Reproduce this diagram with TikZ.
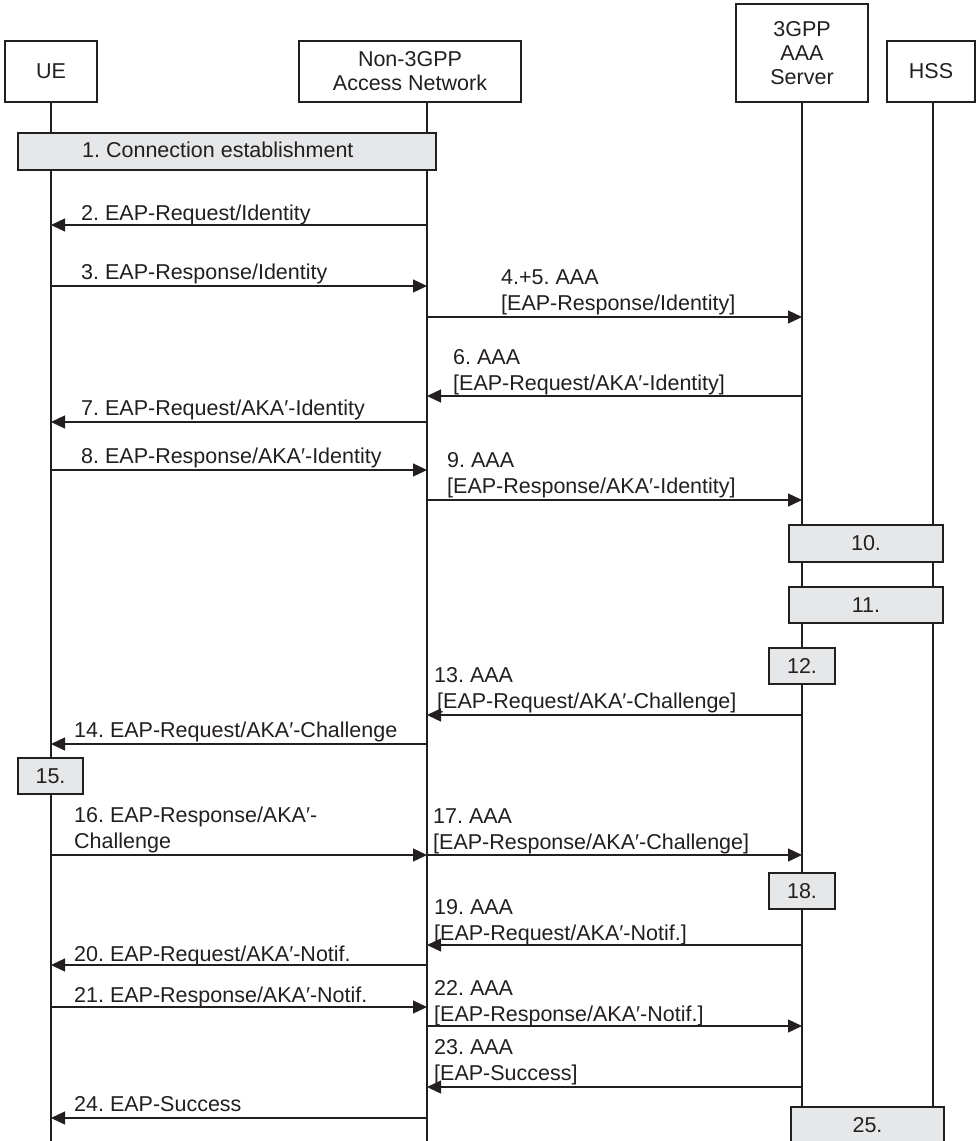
\documentclass[tikz,border=0pt]{standalone}
\usepackage{fontspec}
\setmainfont{Liberation Sans}
\usetikzlibrary{arrows.meta}
\definecolor{Ink}{HTML}{231F20}
\definecolor{StepGray}{HTML}{E6E7E8}
\tikzset{
  entity/.style={draw=Ink,line width=1.4pt,align=center,inner sep=0pt,
    font=\fontsize{21.5}{24}\selectfont,text=Ink},
  stepbox/.style={draw=Ink,fill=StepGray,line width=1.4pt,inner sep=0pt,
    font=\fontsize{21.5}{26}\selectfont,text=Ink},
  life/.style={draw=Ink,line width=1.3pt},
  msg/.style={draw=Ink,line width=1.3pt,-{Triangle[length=14pt,width=13pt]}},
  lab/.style={anchor=base west,align=left,inner sep=0pt,
    font=\fontsize{21.5}{26}\selectfont,text=Ink}
}
\frenchspacing
\begin{document}
\begin{tikzpicture}[x=1pt,y=-1pt]
  \useasboundingbox (0,0) rectangle (976,1141);
  \clip (0,0) rectangle (976,1141);
  \fill[white] (0,0) rectangle (976,1141);

  % entities
  \node[entity,minimum width=92pt,minimum height=61pt] (ue) at (51,71.5) {UE};
  \node[entity,minimum width=222pt,minimum height=61pt] (nan) at (410,71.5) {Non-3GPP\\Access Network};
  \node[entity,minimum width=132pt,minimum height=98pt] (aaa) at (802,53) {3GPP\\AAA\\Server};
  \node[entity,minimum width=88pt,minimum height=61pt] (hss) at (931,71.5) {HSS};

  % lifelines
  \coordinate (uel) at (ue.south);
  \coordinate (nanl) at ([xshift=17pt]nan.south);
  \coordinate (aaal) at (aaa.south);
  \coordinate (hssl) at ([xshift=2pt]hss.south);
  \foreach \l/\e in {uel/1141,nanl/1141,aaal/1107,hssl/1107}
    \draw[life] (\l) -- (\l |- 0,\e);

  % procedure steps
  \node[stepbox,minimum width=418pt,minimum height=37pt] (s1) at (227,151.5) {};
  \node[lab] (t1) at (82,157) {1. Connection establishment};
  \node[stepbox,minimum width=154pt,minimum height=37pt] (s10) at (866,543.5) {10.};
  \node[stepbox,minimum width=154pt,minimum height=36pt] (s11) at (866,605) {11.};
  \node[stepbox,minimum width=66pt,minimum height=36pt] (s12) at (802,666) {12.};
  \node[stepbox,minimum width=65pt,minimum height=36pt] (s15) at (50.5,776) {15.};
  \node[stepbox,minimum width=66pt,minimum height=36pt] (s18) at (802,891) {18.};
  \node[stepbox,minimum width=153pt,minimum height=36pt] (s25) at (867.5,1125) {25.};

  % messages
  \foreach \a/\b/\y in {nanl/uel/225,uel/nanl/286,nanl/aaal/317,aaal/nanl/396,
    nanl/uel/422,uel/nanl/470,nanl/aaal/500,aaal/nanl/715,nanl/uel/744,
    uel/nanl/855,nanl/aaal/855,aaal/nanl/945,nanl/uel/965,uel/nanl/1007,
    nanl/aaal/1026,aaal/nanl/1087,nanl/uel/1118}
    \draw[msg] (\a |- 0,\y) -- (\b |- 0,\y);

  % message labels (base = last line)
  \node[lab] (m2) at (81,220) {2. EAP-Request/Identity};
  \node[lab] (m3) at (81,279) {3. EAP-Response/Identity};
  \node[lab] (m4) at (501,310) {4.+5. AAA\\{[}EAP-Response/Identity]};
  \node[lab] (m6) at (453,390) {6. AAA\\{[}EAP-Request/AKA′-Identity]};
  \node[lab] (m7) at (81,415) {7. EAP-Request/AKA′-Identity};
  \node[lab] (m8) at (81,463) {8. EAP-Response/AKA′-Identity};
  \node[lab] (m9) at (447,493) {9. AAA\\{[}EAP-Response/AKA′-Identity]};
  \node[lab] (m13) at (434,708) {13. AAA\\\hspace*{3pt}{[}EAP-Request/AKA′-Challenge]};
  \node[lab] (m14) at (74,737) {14. EAP-Request/AKA′-Challenge};
  \node[lab] (m16) at (74,848) {16. EAP-Response/AKA′-\\Challenge};
  \node[lab] (m17) at (433,849) {17. AAA\\{[}EAP-Response/AKA′-Challenge]};
  \node[lab] (m19) at (434,940) {19. AAA\\{[}EAP-Request/AKA′-Notif.]};
  \node[lab] (m20) at (74,961) {20. EAP-Request/AKA′-Notif.};
  \node[lab] (m21) at (74,1002) {21. EAP-Response/AKA′-Notif.};
  \node[lab] (m22) at (434,1021) {22. AAA\\{[}EAP-Response/AKA′-Notif.]};
  \node[lab] (m23) at (434,1080) {23. AAA\\{[}EAP-Success]};
  \node[lab] (m24) at (74,1111) {24. EAP-Success};
\end{tikzpicture}
\end{document}
